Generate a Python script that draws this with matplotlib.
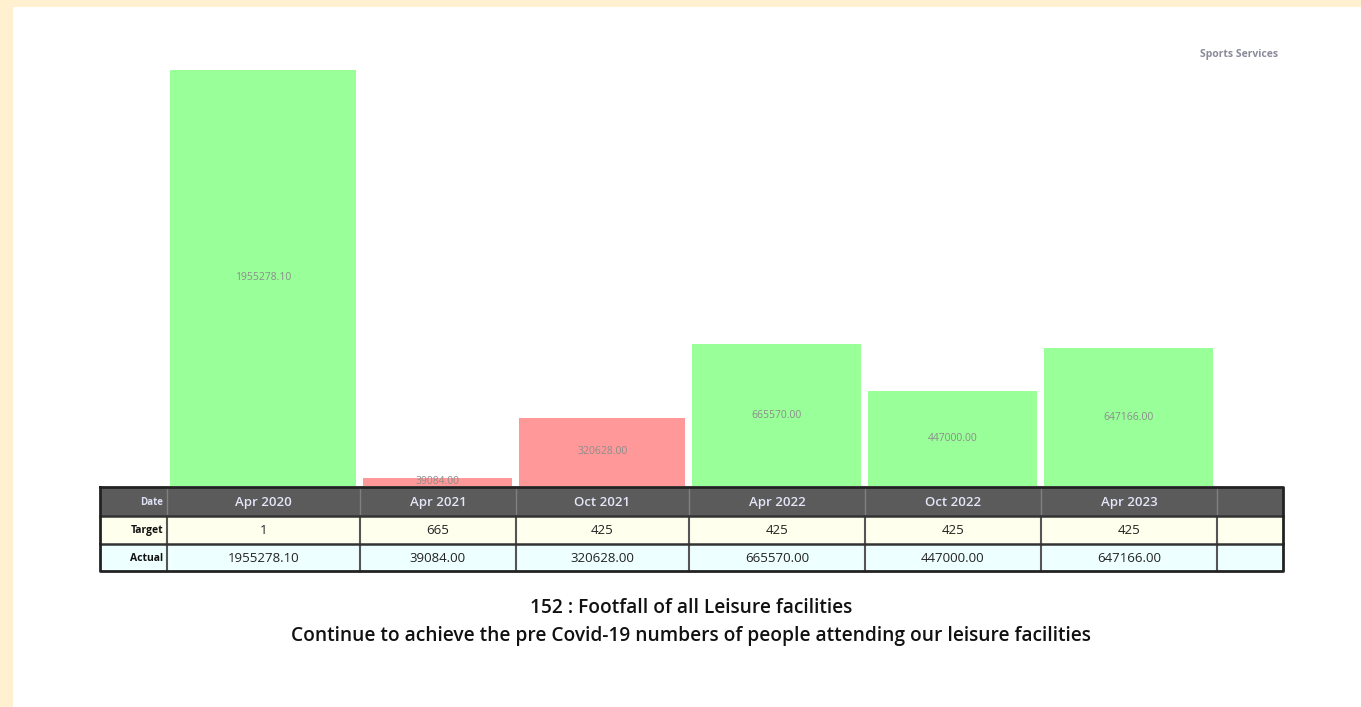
import matplotlib
matplotlib.use('Agg')
import matplotlib.pyplot as plt
from matplotlib.patches import Rectangle

plt.rcParams['font.family'] = ['Open Sans', 'DejaVu Sans']

# data
dates = ['Apr 2020', 'Apr 2021', 'Oct 2021', 'Apr 2022', 'Oct 2022', 'Apr 2023']
target = [1, 665, 425, 425, 425, 425]
actual = [1955278.10, 39084.00, 320628.00, 665570.00, 447000.00, 647166.00]
status = ['green', 'red', 'red', 'green', 'green', 'green']

title = '152 : Footfall of all Leisure facilities'
subtitle = 'Continue to achieve the pre Covid-19 numbers of people attending our leisure facilities'
service = 'Sports Services'

# layout (pixels)
W, H = 1361, 707
col_edges = [100, 167, 360, 516, 689, 865, 1041, 1217, 1283]
row_edges = [487, 516, 544, 571]
base_y, top_y = 486, 70
colors = {'green': '#99FF99', 'red': '#FF9999'}

fig = plt.figure(figsize=(W / 100, H / 100), dpi=100, facecolor='#FFF1CF')
bg = fig.add_axes([0, 0, 1, 1])
bg.set_xlim(0, W)
bg.set_ylim(H, 0)
bg.axis('off')
bg.add_patch(Rectangle((13, 7), W - 13, H - 7, facecolor='white', edgecolor='none'))

# bars
ax = fig.add_axes([col_edges[0] / W, 1 - base_y / H,
                   (col_edges[-1] - col_edges[0]) / W, (base_y - top_y) / H])
ax.set_xlim(col_edges[0], col_edges[-1])
ax.set_ylim(0, max(actual))
ax.axis('off')
centers = [(col_edges[i + 1] + col_edges[i + 2]) / 2 for i in range(len(dates))]
widths = [col_edges[i + 2] - col_edges[i + 1] - 7 for i in range(len(dates))]
bars = ax.bar(centers, actual, width=widths, color=[colors[s] for s in status],
              edgecolor='none')
for c, v in zip(centers, actual):
    ax.text(c, v / 2, f'{v:.2f}', ha='center', va='center', fontsize=7.5, color='#8c8c8c')

# table
x0, x1 = col_edges[0], col_edges[-1]
row_cols = ['#5B5B5B', '#FFFFEE', '#EEFFFF']
for r in range(3):
    bg.add_patch(Rectangle((x0, row_edges[r]), x1 - x0, row_edges[r + 1] - row_edges[r],
                           facecolor=row_cols[r], edgecolor='none'))
for i, x in enumerate(col_edges[1:-1]):
    bg.plot([x, x], [row_edges[0], row_edges[1]], color='#808080', lw=1)
    bg.plot([x, x], [row_edges[1], row_edges[3]], color='#555555', lw=1.5)
for y in row_edges[1:3]:
    bg.plot([x0, x1], [y, y], color='#333333', lw=1.8)
bg.plot([x0, x1, x1, x0, x0], [row_edges[0], row_edges[0], row_edges[3], row_edges[3], row_edges[0]],
        color='#222222', lw=2)

row_labels = ['Date', 'Target', 'Actual']
for r, lab in enumerate(row_labels):
    yc = (row_edges[r] + row_edges[r + 1]) / 2 + 1
    bg.text(col_edges[1] - 4, yc, lab, ha='right', va='center', fontsize=7.5 if r else 7,
            fontweight='bold', color='#DDE0F5' if r == 0 else '#111111')
for i in range(len(dates)):
    xc = (col_edges[i + 1] + col_edges[i + 2]) / 2
    bg.text(xc, (row_edges[0] + row_edges[1]) / 2 + 1, dates[i], ha='center', va='center',
            fontsize=9.5, fontweight='semibold', color='#E4E6F8')
    bg.text(xc, (row_edges[1] + row_edges[2]) / 2 + 1, str(target[i]), ha='center', va='center',
            fontsize=9.5, color='#222222')
    bg.text(xc, (row_edges[2] + row_edges[3]) / 2 + 1, f'{actual[i]:.2f}', ha='center', va='center',
            fontsize=9.5, color='#222222')

bg.text(1278, 54, service, ha='right', va='center', fontsize=7.5, fontweight='bold', color='#8a8a9a')
bg.text(691, 608, title, ha='center', va='center', fontsize=13.8, fontweight='semibold', color='#111111')
bg.text(691, 636, subtitle, ha='center', va='center', fontsize=13.8, fontweight='semibold', color='#111111')

plt.savefig('out.png', dpi=100, facecolor=fig.get_facecolor())
